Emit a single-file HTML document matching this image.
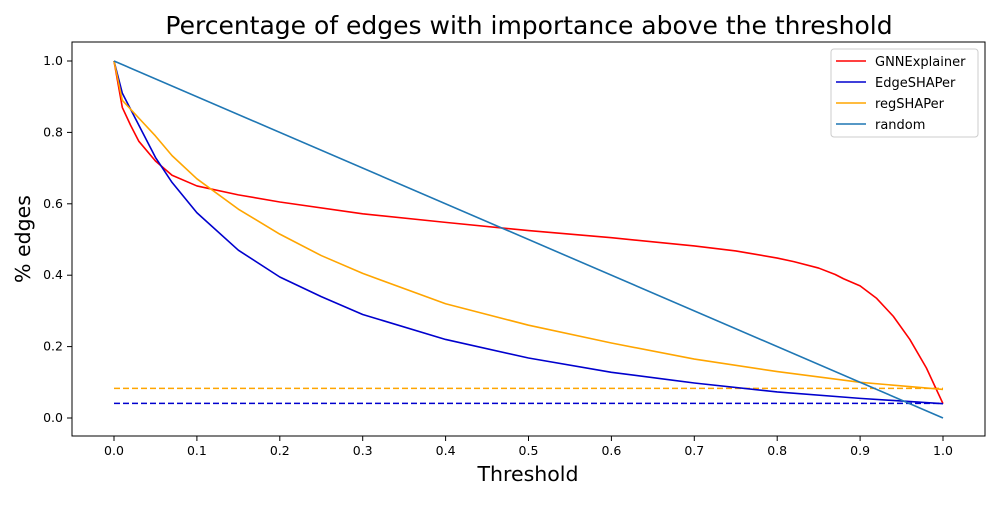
<!DOCTYPE html>
<html><head><meta charset="utf-8"><style>
body{margin:0;background:#fff;}
svg{font-family:"DejaVu Sans","Liberation Sans",sans-serif;}
</style></head><body>
<svg id="chart" width="1000" height="500" xmlns="http://www.w3.org/2000/svg">
<rect width="1000" height="500" fill="#fff"/>
<text x="529" y="34" font-size="25" text-anchor="middle">Percentage of edges with importance above the threshold</text>
<g id="plot"></g>
<rect x="72" y="42" width="913" height="394" fill="none" stroke="#000" stroke-width="1"/>
<text x="528" y="481" font-size="20.5" text-anchor="middle">Threshold</text>
<text x="30" y="239" font-size="20.5" text-anchor="middle" transform="rotate(-90 30 239)">% edges</text>
<g>
<rect x="831" y="49" width="147" height="88" rx="3" fill="#fff" stroke="#ccc"/>
<line x1="836" y1="61" x2="866" y2="61" stroke="#ff0000" stroke-width="1.5"/><text x="875" y="66" font-size="13">GNNExplainer</text>
<line x1="836" y1="82" x2="866" y2="82" stroke="#0000cd" stroke-width="1.5"/><text x="875" y="87" font-size="13">EdgeSHAPer</text>
<line x1="836" y1="103" x2="866" y2="103" stroke="#ffa500" stroke-width="1.5"/><text x="875" y="108" font-size="13">regSHAPer</text>
<line x1="836" y1="124" x2="866" y2="124" stroke="#1f77b4" stroke-width="1.5"/><text x="875" y="129" font-size="13">random</text>
</g>
</svg>
<script>
const xTicks=[0,0.1,0.2,0.3,0.4,0.5,0.6,0.7,0.8,0.9,1.0];
const yTicks=[0,0.2,0.4,0.6,0.8,1.0];
const gnnX=[0,0.01,0.02,0.03,0.05,0.07,0.1,0.15,0.2,0.3,0.4,0.5,0.6,0.7,0.75,0.8,0.82,0.85,0.87,0.88,0.9,0.92,0.94,0.96,0.98,0.99,1.0];
const gnnY=[1.0,0.87,0.82,0.775,0.72,0.68,0.65,0.625,0.605,0.572,0.548,0.525,0.505,0.482,0.468,0.448,0.438,0.42,0.402,0.39,0.37,0.335,0.285,0.22,0.14,0.09,0.04];
const edgeX=[0,0.01,0.03,0.05,0.07,0.1,0.15,0.2,0.25,0.3,0.4,0.5,0.6,0.7,0.8,0.9,1.0];
const edgeY=[1.0,0.91,0.82,0.73,0.66,0.575,0.47,0.395,0.34,0.29,0.22,0.168,0.128,0.098,0.073,0.055,0.04];
const regX=[0,0.01,0.03,0.05,0.07,0.1,0.15,0.2,0.25,0.3,0.4,0.5,0.6,0.7,0.8,0.9,1.0];
const regY=[1.0,0.89,0.84,0.79,0.735,0.67,0.585,0.515,0.455,0.405,0.32,0.26,0.21,0.165,0.13,0.1,0.08];
const randX=[0,1];
const randY=[1,0];
const regBaseline=0.083;
const edgeBaseline=0.041;
const X=v=>114+v*829, Y=v=>418-v*357;
const NS="http://www.w3.org/2000/svg";
const g=document.getElementById('plot');
function mk(t,a){const e=document.createElementNS(NS,t);for(const k in a)e.setAttribute(k,a[k]);g.appendChild(e);return e;}
xTicks.forEach(t=>{
  const l=mk('line',{x1:X(t),x2:X(t),y1:436,y2:441,stroke:'#000'});
  
  
  const s=mk('text',{x:X(t),y:455,'font-size':12.5,'text-anchor':'middle'});s.textContent=t.toFixed(1);
  
  
});
yTicks.forEach(t=>{
  const l=mk('line',{x1:67,x2:72,y1:Y(t),y2:Y(t),stroke:'#000'});
  
  
  const s=mk('text',{x:63,y:Y(t)+4,'font-size':12.5,'text-anchor':'end'});s.textContent=t.toFixed(1);
  
  
});
function line(xs,ys,c,name){
  const p=mk('polyline',{points:xs.map((x,i)=>X(x)+','+Y(ys[i])).join(' '),fill:'none',stroke:c,'stroke-width':1.6,'stroke-linejoin':'round'});
  
  
}
function hline(v,c,name){
  const p=mk('line',{x1:X(0),x2:X(1),y1:Y(v),y2:Y(v),stroke:c,'stroke-width':1.6,'stroke-dasharray':'6,3'});
  
  
}
hline(regBaseline,'#ffa500','regshaper-baseline');
hline(edgeBaseline,'#0000cd','edgeshaper-baseline');
line(gnnX,gnnY,'#ff0000','gnnexplainer-line');
line(edgeX,edgeY,'#0000cd','edgeshaper-line');
line(regX,regY,'#ffa500','regshaper-line');
line(randX,randY,'#1f77b4','random-line');
</script>
</body></html>
